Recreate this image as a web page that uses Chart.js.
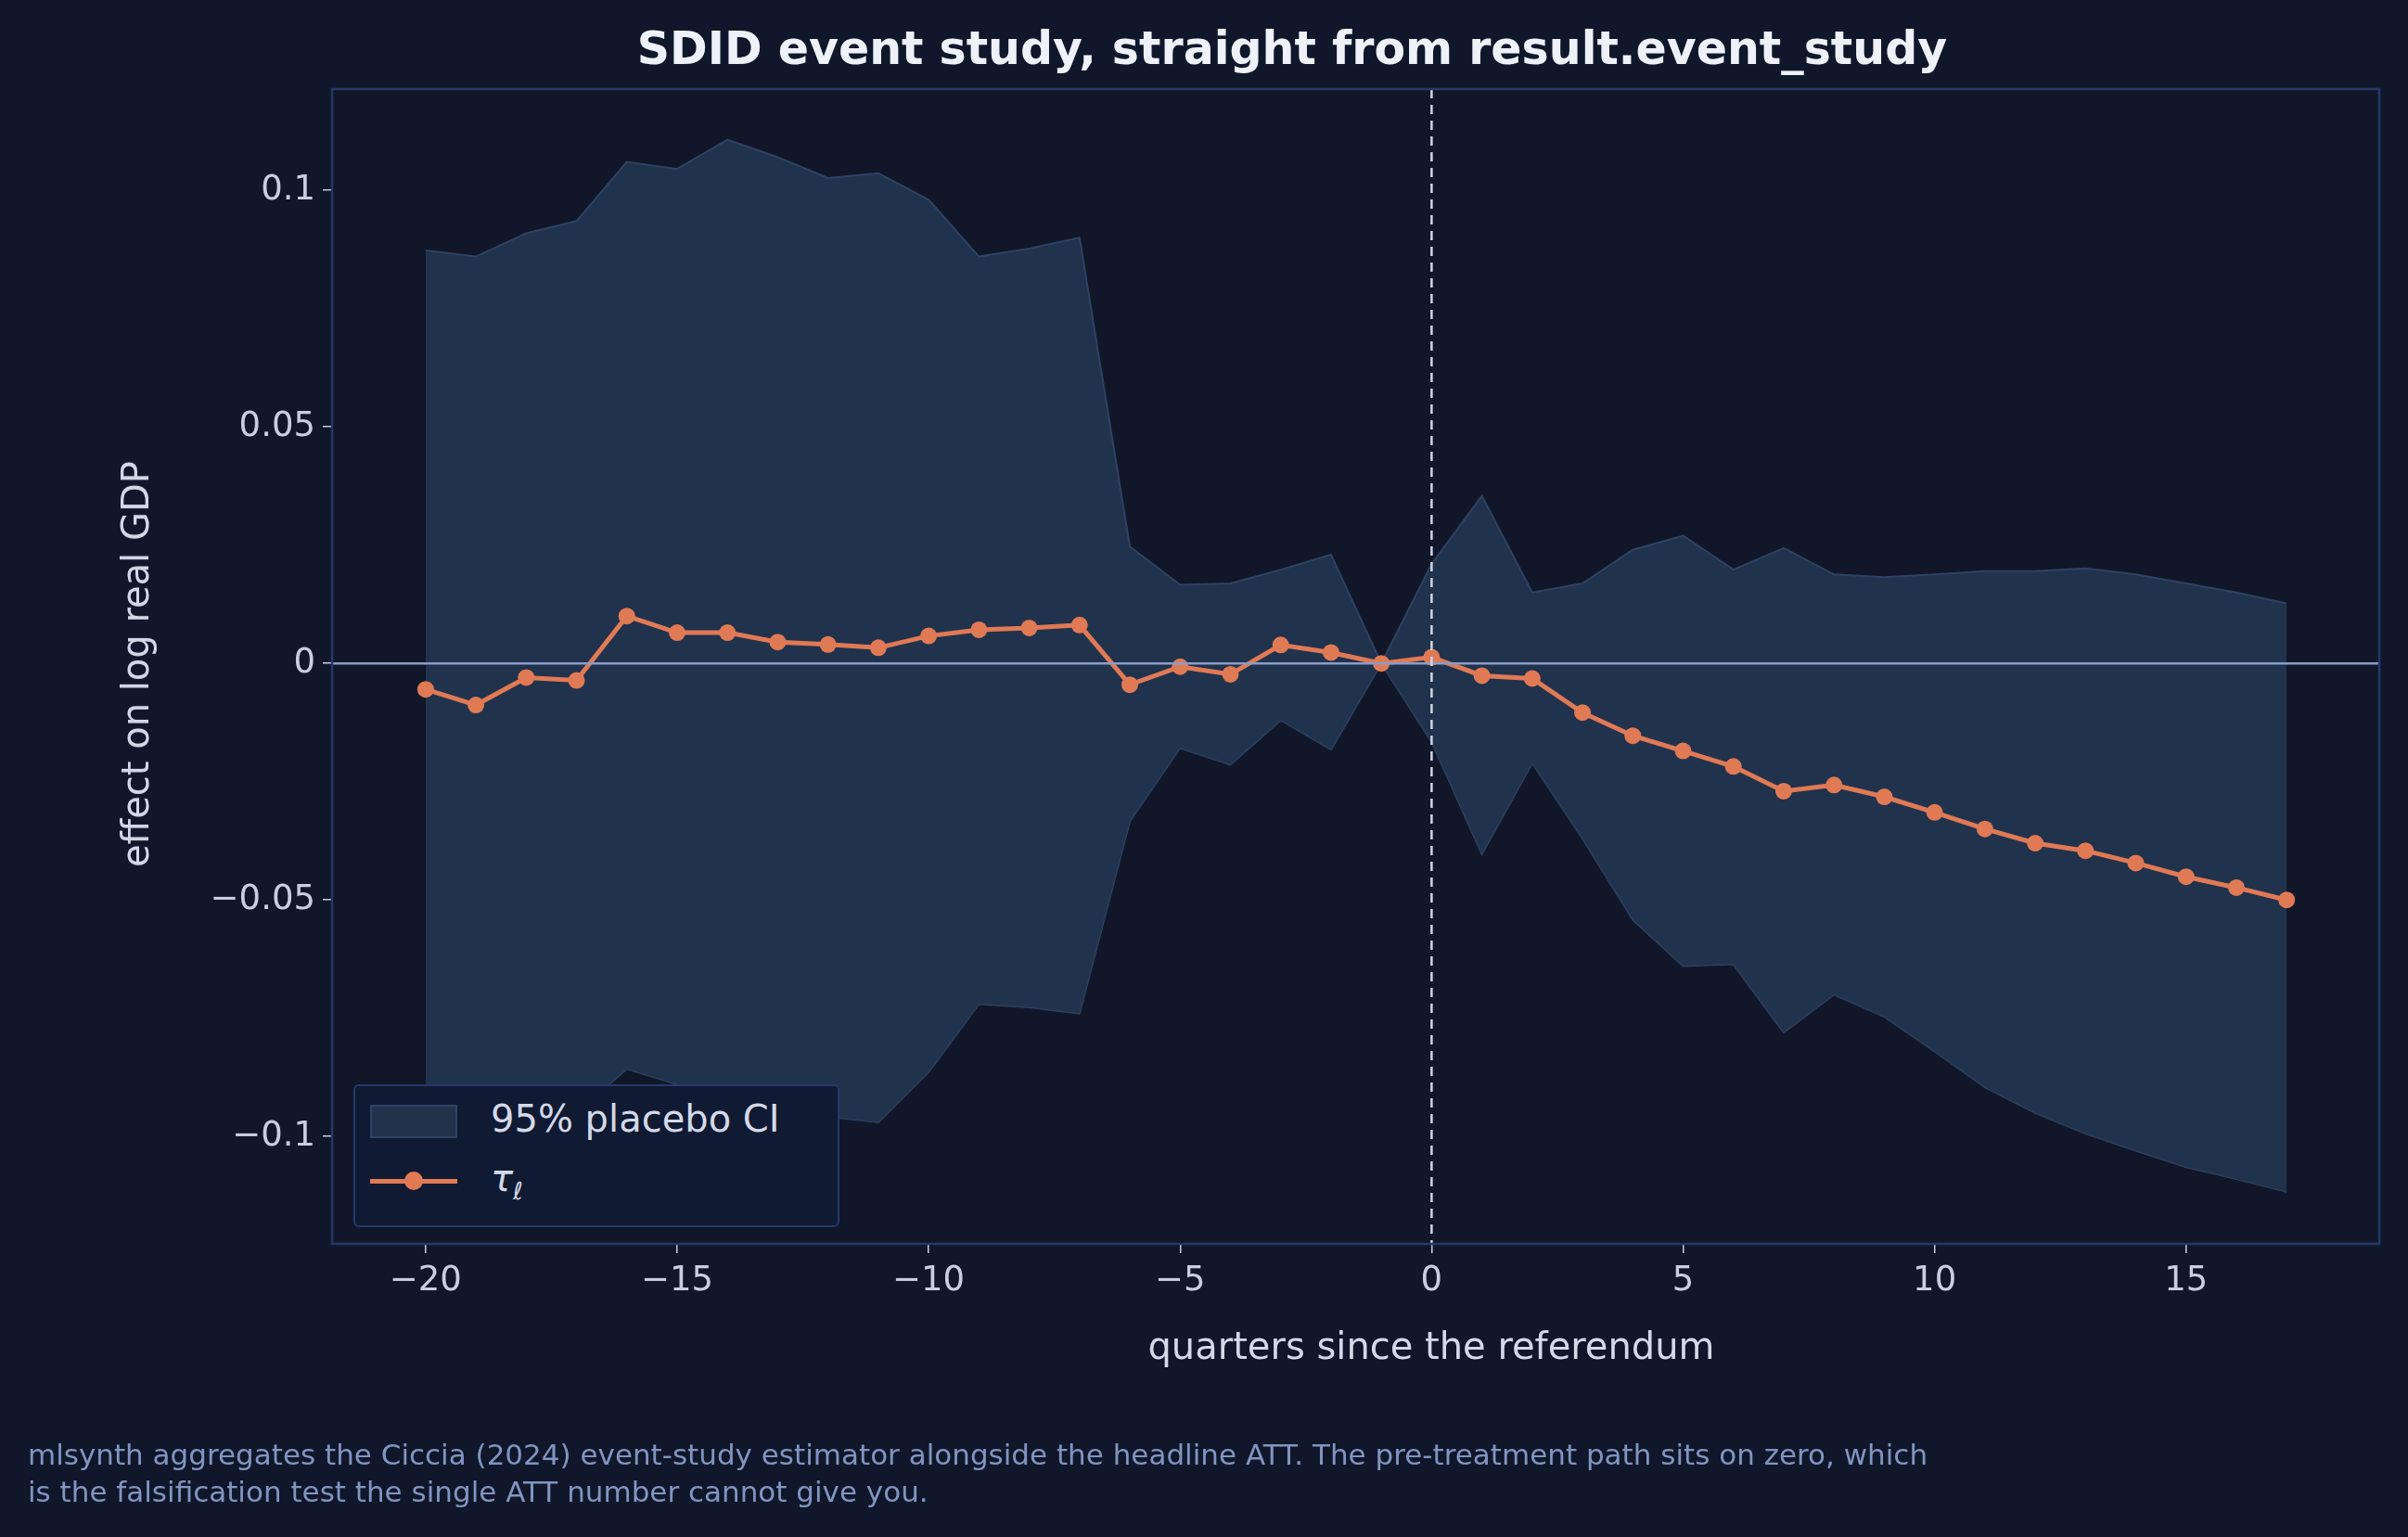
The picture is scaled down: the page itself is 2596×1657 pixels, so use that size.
<!DOCTYPE html>
<html>
<head>
<meta charset="utf-8">
<script src="https://cdn.jsdelivr.net/npm/chart.js@4.4.0/dist/chart.umd.min.js"></script>
<style>
  body { margin: 0; background: #10172a; font-family: "DejaVu Sans", sans-serif; }
  #wrap { position: relative; width: 2596px; height: 1657px; }
  canvas { position: absolute; left: 0; top: 0; }
  .txt { position: absolute; color: #d3d9e8; white-space: nowrap; }
  #legend { position: absolute; left: 381px; top: 1169px; width: 520px; height: 150px;
            background: #111a33; border: 2px solid #26386a; border-radius: 6px; }
</style>
</head>
<body>
<div id="wrap">
  <canvas id="chart" width="2596" height="1657"></canvas>
  <div class="txt" style="left:0;width:2596px;top:24px;text-align:center;font-size:49px;font-weight:bold;color:#eef1f8;padding-left:190px;box-sizing:border-box;">SDID event study, straight from result.event_study</div>
  <div class="txt" style="left:1543px;top:1428px;font-size:40px;transform:translateX(-50%);">quarters since the referendum</div>
  <div class="txt" style="left:146px;top:716px;font-size:40px;transform:translate(-50%,-50%) rotate(-90deg);">effect on log real GDP</div>
  <div class="txt" style="left:30px;top:1548px;font-size:31px;color:#8294c0;line-height:40px;">mlsynth aggregates the Ciccia (2024) event-study estimator alongside the headline ATT. The pre-treatment path sits on zero, which<br>is the falsification test the single ATT number cannot give you.</div>
  <div id="legend">
    <div style="position:absolute;left:16px;top:20px;width:94px;height:36px;background:#22324b;border:2px solid #2f4263;box-sizing:border-box;"></div>
    <div class="txt" style="left:146px;top:12px;font-size:40px;">95% placebo CI</div>
    <div style="position:absolute;left:16px;top:100px;width:94px;height:5px;background:#e07a55;"></div>
    <div style="position:absolute;left:53px;top:92px;width:20px;height:20px;border-radius:50%;background:#e07a55;"></div>
    <div class="txt" style="left:146px;top:76px;font-size:40px;font-style:italic;">τ<sub style="font-size:26px;">ℓ</sub></div>
  </div>
</div>
<script>
const quarters = [-20,-19,-18,-17,-16,-15,-14,-13,-12,-11,-10,-9,-8,-7,-6,-5,-4,-3,-2,-1,0,1,2,3,4,5,6,7,8,9,10,11,12,13,14,15,16,17];
const tau = [-0.0055,-0.0088,-0.003,-0.0036,0.010,0.0065,0.0065,0.0045,0.004,0.0033,0.0058,0.0071,0.0075,0.0081,-0.0045,-0.0007,-0.0023,0.0039,0.0023,0,0.0013,-0.0026,-0.0032,-0.0104,-0.0153,-0.0185,-0.0218,-0.027,-0.0257,-0.0282,-0.0315,-0.035,-0.038,-0.0396,-0.0422,-0.0451,-0.0474,-0.050];
const ciUpper = [0.0873,0.086,0.0909,0.0935,0.106,0.1045,0.1107,0.107,0.1026,0.1036,0.098,0.086,0.0877,0.090,0.0247,0.0166,0.0169,0.0198,0.023,0,0.021,0.0354,0.015,0.0169,0.024,0.027,0.0198,0.0244,0.0188,0.0182,0.0188,0.0195,0.0195,0.0201,0.0188,0.0169,0.015,0.0127];
const ciLower = [-0.104,-0.101,-0.097,-0.095,-0.0857,-0.089,-0.091,-0.0935,-0.0958,-0.097,-0.0864,-0.072,-0.0727,-0.074,-0.0334,-0.0179,-0.0214,-0.012,-0.0182,0,-0.0166,-0.0403,-0.0211,-0.037,-0.0542,-0.064,-0.0636,-0.078,-0.070,-0.0747,-0.082,-0.0896,-0.095,-0.0994,-0.103,-0.1065,-0.109,-0.1117];
const xTicks = [-20,-15,-10,-5,0,5,10,15];
const yTicks = [-0.10,-0.05,0,0.05,0.10];

const pts = arr => quarters.map((q, i) => ({ x: q, y: arr[i] }));
const fmt = v => (v < 0 ? '\u2212' : '') + Math.abs(v);

const refLines = {
  id: 'refLines',
  beforeDatasetsDraw(chart) {
    const { ctx, chartArea: a, scales: { x, y } } = chart;
    ctx.save();
    ctx.fillStyle = '#111729';
    ctx.fillRect(a.left, a.top, a.right - a.left, a.bottom - a.top);
    ctx.restore();
  },
  afterDatasetsDraw(chart) {
    const { ctx, chartArea: a, scales: { x, y } } = chart;
    ctx.save();
    ctx.strokeStyle = '#8a9cc8';
    ctx.lineWidth = 2.5;
    ctx.beginPath();
    ctx.moveTo(a.left, y.getPixelForValue(0));
    ctx.lineTo(a.right, y.getPixelForValue(0));
    ctx.stroke();
    ctx.strokeStyle = '#d0d6e6';
    ctx.setLineDash([10, 7]);
    ctx.beginPath();
    ctx.moveTo(x.getPixelForValue(0), a.top);
    ctx.lineTo(x.getPixelForValue(0), a.bottom);
    ctx.stroke();
    ctx.setLineDash([]);
    ctx.strokeStyle = '#26386a';
    ctx.lineWidth = 2.5;
    ctx.strokeRect(a.left, a.top, a.right - a.left, a.bottom - a.top);
    ctx.restore();
  }
};

new Chart(document.getElementById('chart'), {
  type: 'line',
  data: {
    datasets: [
      { data: pts(ciUpper), borderColor: '#2f4263', borderWidth: 2, pointRadius: 0, fill: '+1', backgroundColor: 'rgba(36,53,81,0.9)', tension: 0, order: 3 },
      { data: pts(ciLower), borderColor: '#2f4263', borderWidth: 2, pointRadius: 0, fill: false, tension: 0, order: 3 },
      { data: pts(tau), borderColor: '#e07a55', backgroundColor: '#e07a55', borderWidth: 5, pointRadius: 9, pointBorderWidth: 0, fill: false, tension: 0, order: 1 }
    ]
  },
  options: {
    responsive: false,
    animation: false,
    devicePixelRatio: 1,
    layout: { padding: { top: 96, right: 31, bottom: 246, left: 0 } },
    plugins: { legend: { display: false }, tooltip: { enabled: false } },
    scales: {
      x: {
        type: 'linear', min: -21.86, max: 18.84,
        afterBuildTicks: s => { s.ticks = xTicks.map(v => ({ value: v })); },
        afterFit: s => { s.height = 70; },
        grid: { color: '#1b2650', lineWidth: 1.5, tickLength: 10, tickColor: '#c8cfe0' },
        border: { display: false },
        ticks: { color: '#c8cfe0', font: { size: 37, family: 'DejaVu Sans' }, callback: v => fmt(v), maxRotation: 0, padding: 8 }
      },
      y: {
        min: -0.1227, max: 0.1214,
        afterBuildTicks: s => { s.ticks = yTicks.map(v => ({ value: v })); },
        afterFit: s => { s.width = 358; },
        grid: { color: '#1b2650', lineWidth: 1.5, tickLength: 10, tickColor: '#c8cfe0' },
        border: { display: false },
        ticks: { color: '#c8cfe0', font: { size: 37, family: 'DejaVu Sans' }, callback: v => fmt(v.toFixed(2) * 1 === 0 ? '0.00' : v.toFixed(2)).replace('\u2212-', '\u2212'), padding: 8 }
      }
    }
  },
  plugins: [refLines]
});
</script>
</body>
</html>
